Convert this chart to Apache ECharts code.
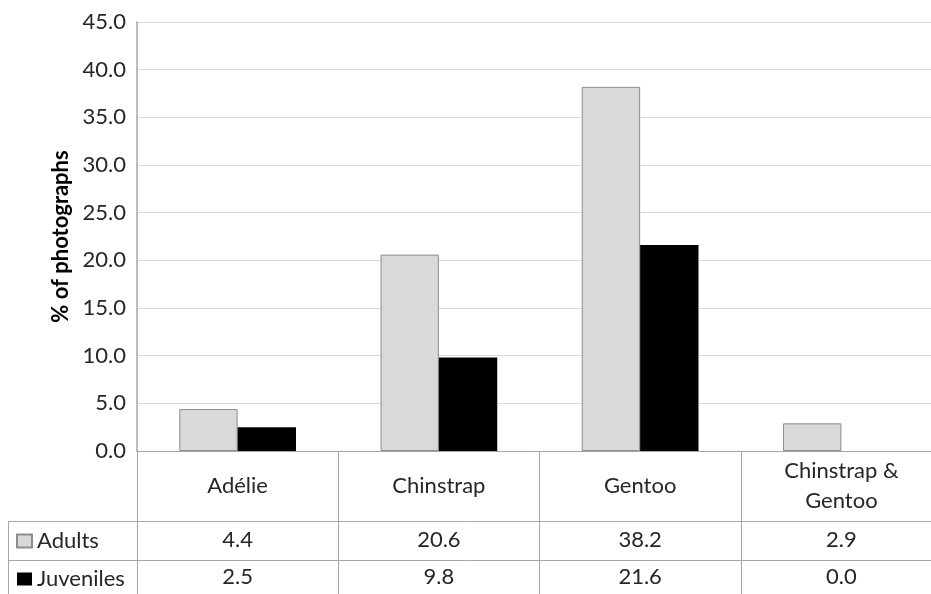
<!DOCTYPE html>
<html>
<head>
<meta charset="utf-8">
<script src="https://cdn.jsdelivr.net/npm/echarts@6/dist/echarts.min.js"></script>
<style>
html,body{margin:0;padding:0;background:#fff;}
#c{width:931px;height:594px;}
</style>
</head>
<body>
<div id="c"></div>
<script>
const categories = ['Adélie', 'Chinstrap', 'Gentoo', 'Chinstrap & Gentoo'];
const adults = [4.4, 20.6, 38.2, 2.9];
const juveniles = [2.5, 9.8, 21.6, 0.0];
const seriesNames = ['Adults', 'Juveniles'];
const yTicks = { min: 0, max: 45, interval: 5 };
const yAxisTitle = '% of photographs';

const FONT = 'Lato, "Open Sans", sans-serif';
const TXT = '#262626';
const LINE = '#a6a6a6';
const FS = 22;

const chart = echarts.init(document.getElementById('c'));
chart.setOption({
  animation: false,
  backgroundColor: '#fff',
  textStyle: { fontFamily: FONT },
  grid: { left: 137, top: 22, bottom: 143, right: -11, containLabel: false, outerBoundsMode: 'none' },
  legend: {
    orient: 'vertical',
    left: 16,
    top: 530,
    padding: 0,
    itemWidth: 15,
    itemHeight: 13,
    itemGap: 16,
    icon: 'rect',
    textStyle: { fontFamily: FONT, fontSize: FS, color: TXT, lineHeight: 21 },
    data: seriesNames
  },
  xAxis: [
    {
      type: 'category',
      data: categories,
      position: 'bottom',
      axisLine: { show: true, lineStyle: { color: LINE, width: 1 } },
      axisTick: { show: true, length: 143, lineStyle: { color: LINE, width: 1 } },
      axisLabel: {
        interval: 0, margin: 35, verticalAlign: 'middle', align: 'center',
        fontFamily: FONT, fontSize: FS, color: TXT, lineHeight: 30,
        formatter: v => v.replace(' & ', ' &\n')
      }
    },
    {
      type: 'category',
      data: categories,
      position: 'bottom',
      axisLine: { show: false }, axisTick: { show: false },
      axisLabel: {
        interval: 0, margin: 89, verticalAlign: 'middle', align: 'center',
        fontFamily: FONT, fontSize: FS, color: TXT,
        formatter: (v, i) => adults[i].toFixed(1)
      }
    },
    {
      type: 'category',
      data: categories,
      position: 'bottom',
      axisLine: { show: false }, axisTick: { show: false },
      axisLabel: {
        interval: 0, margin: 126, verticalAlign: 'middle', align: 'center',
        fontFamily: FONT, fontSize: FS, color: TXT,
        formatter: (v, i) => juveniles[i].toFixed(1)
      }
    }
  ],
  yAxis: {
    type: 'value',
    min: yTicks.min, max: yTicks.max, interval: yTicks.interval,
    name: yAxisTitle,
    nameLocation: 'middle',
    nameRotate: 90,
    nameGap: 64,
    nameTextStyle: { fontFamily: FONT, fontSize: FS, fontWeight: 'bold', color: '#000' },
    axisLine: { show: true, lineStyle: { color: LINE, width: 1.5 } },
    axisTick: { show: false },
    splitLine: { show: true, lineStyle: { color: '#d9d9d9', width: 1 } },
    axisLabel: { margin: 11, fontFamily: FONT, fontSize: FS, color: TXT, formatter: v => v.toFixed(1) }
  },
  series: [
    {
      name: seriesNames[0], type: 'bar', data: adults,
      barGap: '0%', barCategoryGap: '42%',
      itemStyle: { color: '#d9d9d9', borderColor: '#8c8c8c', borderWidth: 1 }
    },
    {
      name: seriesNames[1], type: 'bar', data: juveniles,
      itemStyle: { color: '#000000' }
    }
  ],
  graphic: [
    { type: 'line', shape: { x1: 8, y1: 521.5, x2: 931, y2: 521.5 }, style: { stroke: LINE, lineWidth: 1 }, silent: true },
    { type: 'line', shape: { x1: 8, y1: 560.5, x2: 931, y2: 560.5 }, style: { stroke: LINE, lineWidth: 1 }, silent: true },
    { type: 'line', shape: { x1: 8.5, y1: 521, x2: 8.5, y2: 594 }, style: { stroke: LINE, lineWidth: 1 }, silent: true }
  ]
});
</script>
</body>
</html>
